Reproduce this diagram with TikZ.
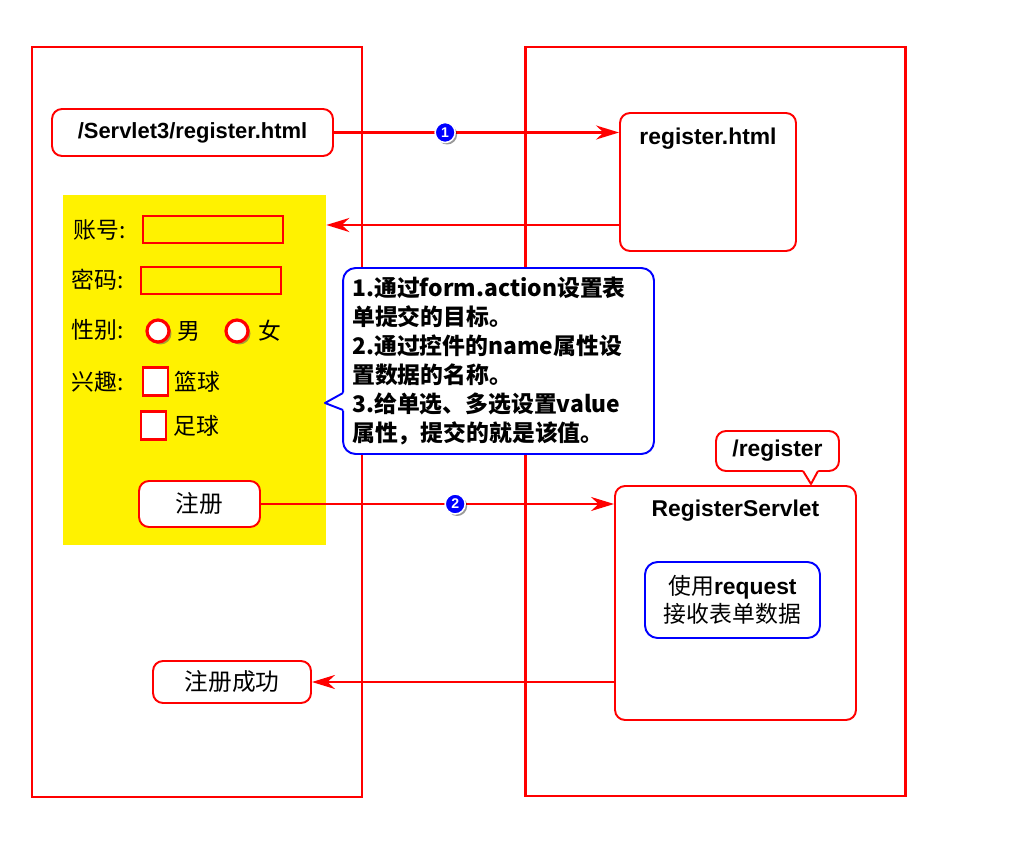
\documentclass[tikz,border=0pt]{standalone}
\usepackage{fontspec}
\setmainfont{Liberation Sans}
\newfontfamily\cjk{Noto Sans CJK SC}
\usetikzlibrary{arrows.meta,shadows}
\begin{document}
\begin{tikzpicture}[x=0.02cm,y=-0.02cm,
  frame/.style={draw=red,line width=1.7pt},
  box/.style={draw=red,line width=1.1pt,rounded corners=0.2cm,fill=white,
    font=\bfseries\fontsize{13}{15}\selectfont},
  field/.style={draw=red,line width=1.5pt,minimum width=2.8cm,minimum height=0.54cm},
  checkbox/.style={draw=red,line width=1.5pt,fill=white,minimum width=0.5cm,minimum height=0.56cm},
  radio/.style={circle,draw=red,line width=1.8pt,fill=white,minimum size=0.44cm,inner sep=0pt,
    drop shadow={shadow xshift=0.05cm,shadow yshift=-0.05cm,fill=black!55!yellow,opacity=0.7}},
  lbl/.style={font=\cjk\fontsize{13}{15}\selectfont},
  num/.style={circle,draw=white,line width=0.9pt,fill=blue,text=white,inner sep=0pt,
    minimum size=0.4cm,font=\bfseries\fontsize{8}{9}\selectfont,
    drop shadow={shadow xshift=0.04cm,shadow yshift=-0.04cm,fill=black,opacity=0.4}},
  arr/.style={draw=red,line width=1.5pt,-{Stealth[length=0.46cm,width=0.28cm]}},
  note/.style={draw=blue,line width=1.1pt,rounded corners=0.25cm,fill=white},
  ]
% the two big frames
\draw[frame] (32,47) rectangle (362,797);
\draw[frame] (525,47) rectangle (905,796);

% browser side
\node[box,minimum width=5.62cm,minimum height=0.94cm,font=\bfseries\fontsize{12.5}{15}\selectfont]
  (url) at (192.5,132.5) {/Servlet3/register.html};
\node[fill=yellow,minimum width=5.26cm,minimum height=7cm] (form) at (194.5,370) {};
\node[lbl] (user) at (100,230) {账号:};
\node[field] (userfield) at (213,229.5) {};
\node[lbl] (pwd) at (98,280) {密码:};
\node[field] (pwdfield) at (211,280.5) {};
\node[lbl] (sex) at (98,330) {性别:};
\node[radio] (male) at (158,331) {};
\node[lbl] (maletext) at (189,331) {男};
\node[radio] (female) at (237,331) {};
\node[lbl] (femaletext) at (270,331) {女};
\node[lbl] (hobby) at (98,382) {兴趣:};
\node[checkbox] (basket) at (155.5,381.5) {};
\node[lbl] (baskettext) at (197,382) {篮球};
\node[checkbox] (foot) at (153.5,425.5) {};
\node[lbl] (foottext) at (196,426) {足球};
\node[box,minimum width=2.42cm,minimum height=0.92cm,font=\cjk\fontsize{13.5}{15}\selectfont]
  (btn) at (199.5,504) {注册};
\node[box,minimum width=3.16cm,minimum height=0.84cm,font=\cjk\fontsize{13.5}{15}\selectfont]
  (ok) at (232,682) {注册成功};

% server side
\node[box,minimum width=3.52cm,minimum height=2.76cm,
  label={[anchor=north,yshift=-0.2cm,font=\bfseries\fontsize{13}{15}\selectfont]north:register.html}]
  (html) at (708,182) {};
\node[box,minimum width=4.82cm,minimum height=4.68cm,
  label={[anchor=north,yshift=-0.18cm,font=\bfseries\fontsize{13}{15}\selectfont]north:RegisterServlet}]
  (servlet) at (735.5,603) {};
\node[note,minimum width=3.5cm,minimum height=1.52cm,align=center,
  font=\fontsize{13}{16}\selectfont] (req) at (732.5,600)
  {{\cjk 使用}\textbf{request}\\{\cjk 接收表单数据}};

% requests and responses
\coordinate (back) at (0,225);
\draw[arr] (url) -- node[num,pos=0.39]{1} (url -| html.west);
\draw[arr] (html.west |- back) -- (form.east |- back);
\draw[arr] (btn) -- node[num,pos=0.55]{2} (btn -| servlet.west);
\draw[arr] (ok -| servlet.west) -- (ok);

% callouts
\node[note,minimum width=6.22cm,minimum height=3.72cm,text width=5.85cm,align=left,
  font=\cjk\bfseries\fontsize{13}{16.5}\selectfont] (tips) at (498.5,361)
  {1.通过form.action设置表\\单提交的目标。\\2.通过控件的name属性设\\置数据的名称。\\3.给单选、多选设置value\\属性，提交的就是该值。};
\fill[white] (345,392) -- (325,403) -- (345,411) -- cycle;
\draw[blue,line width=1.1pt,line join=round] (343,393) -- (325,403) -- (343,410);

\node[box,minimum width=2.46cm,minimum height=0.8cm] (path) at (777.5,451) {/register};
\fill[white] (802,469) -- (811,484) -- (819,469) -- cycle;
\draw[red,line width=1.1pt,line join=round] (803,471) -- (811,484) -- (818,471);

\useasboundingbox (0,0) rectangle (1024,861);
\end{tikzpicture}
\end{document}
